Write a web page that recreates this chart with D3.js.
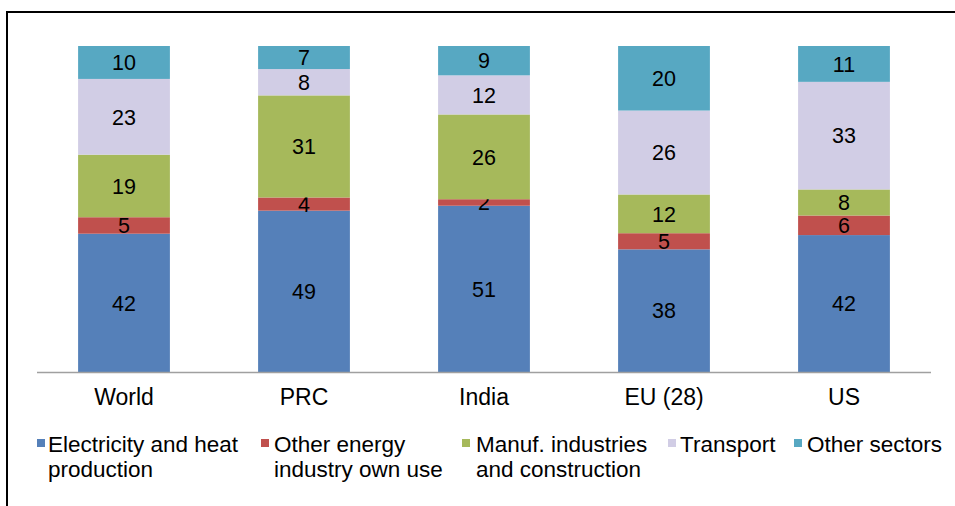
<!DOCTYPE html>
<html>
<head>
<meta charset="utf-8">
<script src="https://cdn.jsdelivr.net/npm/d3@7"></script>
<style>
  html, body { margin: 0; padding: 0; background: #fff; }
  svg { display: block; font-family: "Liberation Sans", Arial, sans-serif; }
</style>
</head>
<body>
<svg id="chart" width="955" height="506"></svg>
<script>
// Regions shown as stacked 100% columns
const categories = ["World", "PRC", "India", "EU (28)", "US"];

// Share of CO2 emissions by sector (%)
const electricityHeat = [42, 49, 51, 38, 42];
const otherEnergy     = [5, 4, 2, 5, 6];
const manufacturing   = [19, 31, 26, 12, 8];
const transport       = [23, 8, 12, 26, 33];
const otherSectors    = [10, 7, 9, 20, 11];

const seriesNames = [
  ["Electricity and heat", "production"],
  ["Other energy", "industry own use"],
  ["Manuf. industries", "and construction"],
  ["Transport"],
  ["Other sectors"]
];
const seriesValues = [electricityHeat, otherEnergy, manufacturing, transport, otherSectors];
const colors = ["#5580B9", "#C0504D", "#A6B95B", "#D1CDE5", "#57A8C2"];

const rows = categories.map((c, i) => {
  const r = { category: c };
  seriesValues.forEach((vals, k) => { r["s" + k] = vals[i]; });
  return r;
});
const keys = seriesValues.map((_, k) => "s" + k);

const stack = d3.stack().keys(keys).offset(d3.stackOffsetExpand);
const layers = stack(rows);

const svg = d3.select("#chart");

// outer frame
svg.append("rect")
  .attr("x", 7).attr("y", 12)
  .attr("width", 1000).attr("height", 600)
  .attr("fill", "none").attr("stroke", "#000").attr("stroke-width", 2);

const x = d3.scaleBand().domain(categories).range([34, 934]).paddingInner(0.49).paddingOuter(0.245);
const y = d3.scaleLinear().domain([0, 1]).range([372, 46]);

const g = svg.append("g");
layers.forEach((layer, k) => {
  const lg = g.append("g");
  lg.selectAll("rect").data(layer).join("rect")
    .attr("x", d => x(d.data.category))
    .attr("width", x.bandwidth())
    .attr("y", d => y(d[1]))
    .attr("height", d => y(d[0]) - y(d[1]))
    .attr("fill", colors[k]);
  lg.selectAll("text").data(layer).join("text")
    .attr("x", d => x(d.data.category) + x.bandwidth() / 2)
    .attr("y", d => (y(d[0]) + y(d[1])) / 2)
    .attr("dy", "0.36em")
    .attr("text-anchor", "middle")
    .attr("font-size", 21.5)
    .attr("fill", "#000")
    .text(d => d.data[layer.key]);
});

// category axis
const axis = svg.append("g").attr("transform", "translate(0,372)")
  .call(d3.axisBottom(x).tickSize(0).tickPadding(17));
axis.select(".domain").attr("stroke", "#A0A0A0").attr("stroke-width", 1.5).attr("d", "M37,0.5H931");
axis.selectAll("text").attr("font-size", 23).attr("fill", "#000")
  .attr("font-family", "Liberation Sans, Arial, sans-serif");

// legend
const swatchX = [37, 261, 462, 668, 794];
const labelX = [48, 274, 476, 680, 807];
const legend = svg.append("g");
seriesNames.forEach((lines, k) => {
  const lgI = legend.append("g");
  lgI.append("rect").attr("x", swatchX[k]).attr("y", 439).attr("width", 8).attr("height", 8).attr("fill", colors[k]);
  const t = lgI.append("text").attr("x", labelX[k]).attr("y", 452).attr("font-size", 22.5).attr("fill", "#000");
  lines.forEach((ln, j) => {
    t.append("tspan").attr("x", labelX[k]).attr("y", 452 + j * 25).text(ln);
  });
});
</script>
</body>
</html>
